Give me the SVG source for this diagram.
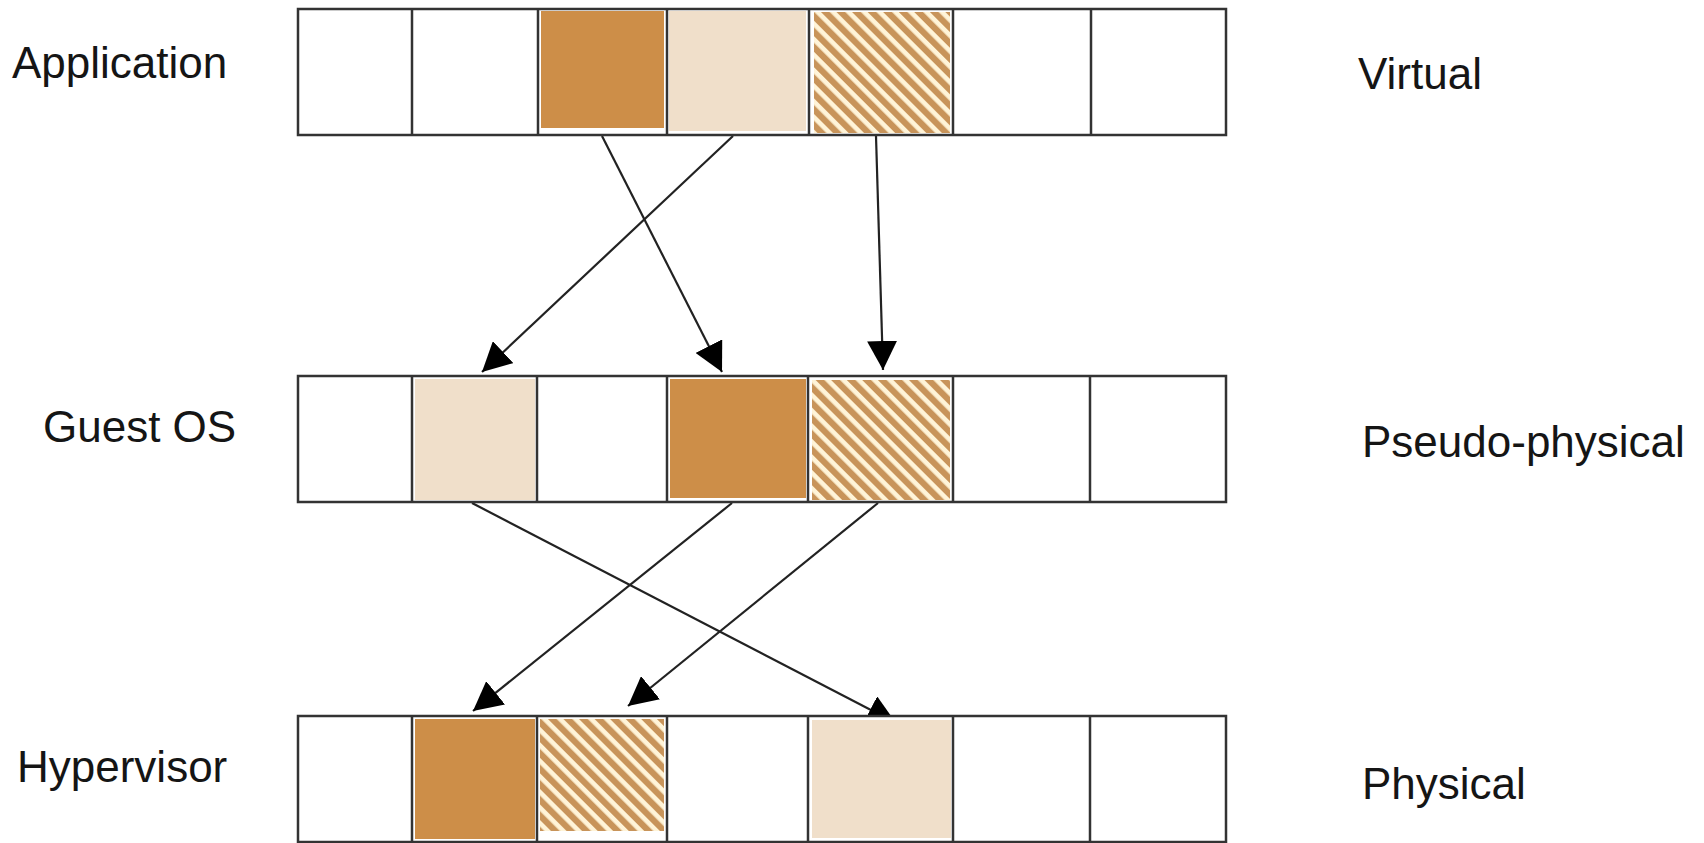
<svg xmlns="http://www.w3.org/2000/svg" width="1704" height="843" viewBox="0 0 1704 843">
<style>
.cell{stroke:#333;stroke-width:2.5;fill:#fff}
.dark{fill:#CD8E48}
.light{fill:#F0DFCA}
.hatch{fill:url(#hatch)}
.conn{stroke:#222;stroke-width:2.2;fill:none;marker-end:url(#arrow)}
.lbl{font-family:"Liberation Sans",Arial,sans-serif;font-size:44px;fill:#151515}
</style>
<defs>
<pattern id="hatch" patternUnits="userSpaceOnUse" width="11" height="11" patternTransform="rotate(-45)">
<rect x="0" y="0" width="11" height="11" fill="#FFF4D8"/>
<rect x="0" y="0" width="6.3" height="11" fill="#C8945A"/>
</pattern>
<marker id="arrow" viewBox="0 0 29 30" refX="29" refY="15" markerWidth="29" markerHeight="30" markerUnits="userSpaceOnUse" orient="auto">
<path d="M0,0 L29,15 L0,30 z" fill="#000"/>
</marker>
</defs>
<rect width="1704" height="843" fill="#fff"/>

<g id="connectors">
<line class="conn" x1="602" y1="136" x2="722" y2="372"/>
<line class="conn" x1="733" y1="136" x2="482" y2="372"/>
<line class="conn" x1="876" y1="136" x2="883" y2="370"/>
<line class="conn" x1="472" y1="503" x2="896" y2="723"/>
<line class="conn" x1="732" y1="503" x2="473" y2="711"/>
<line class="conn" x1="878" y1="503" x2="628" y2="706"/>
</g>

<g id="row-virtual">
<rect class="cell" x="298" y="9" width="928" height="126"/>
<rect class="dark" x="541" y="11" width="123" height="117"/>
<rect class="light" x="669" y="11" width="137" height="120"/>
<rect class="hatch" x="814" y="12" width="136" height="121"/>
<g stroke="#333" stroke-width="2.5">
<line x1="412" y1="9" x2="412" y2="135"/>
<line x1="538" y1="9" x2="538" y2="135"/>
<line x1="667" y1="9" x2="667" y2="135"/>
<line x1="809" y1="9" x2="809" y2="135"/>
<line x1="953" y1="9" x2="953" y2="135"/>
<line x1="1091" y1="9" x2="1091" y2="135"/>
</g>
</g>

<g id="row-pseudo-physical">
<rect class="cell" x="298" y="376" width="928" height="126"/>
<rect class="light" x="415" y="379" width="120" height="121"/>
<rect class="dark" x="670" y="379" width="136" height="119"/>
<rect class="hatch" x="812" y="380" width="138" height="120"/>
<g stroke="#333" stroke-width="2.5">
<line x1="412" y1="376" x2="412" y2="502"/>
<line x1="537" y1="376" x2="537" y2="502"/>
<line x1="667" y1="376" x2="667" y2="502"/>
<line x1="808" y1="376" x2="808" y2="502"/>
<line x1="953" y1="376" x2="953" y2="502"/>
<line x1="1090" y1="376" x2="1090" y2="502"/>
</g>
</g>

<g id="row-physical">
<rect class="cell" x="298" y="716" width="928" height="126"/>
<rect class="dark" x="415" y="719" width="120" height="120"/>
<rect class="hatch" x="540" y="719" width="124" height="112"/>
<rect class="light" x="812" y="720" width="139" height="118"/>
<g stroke="#333" stroke-width="2.5">
<line x1="412" y1="716" x2="412" y2="842"/>
<line x1="537" y1="716" x2="537" y2="842"/>
<line x1="667" y1="716" x2="667" y2="842"/>
<line x1="808" y1="716" x2="808" y2="842"/>
<line x1="953" y1="716" x2="953" y2="842"/>
<line x1="1090" y1="716" x2="1090" y2="842"/>
</g>
</g>

<g id="labels">
<text class="lbl" x="12" y="78">Application</text>
<text class="lbl" x="43" y="442">Guest OS</text>
<text class="lbl" x="17" y="782">Hypervisor</text>
<text class="lbl" x="1358" y="89">Virtual</text>
<text class="lbl" x="1362" y="457">Pseudo-physical</text>
<text class="lbl" x="1362" y="799">Physical</text>
</g>
</svg>
